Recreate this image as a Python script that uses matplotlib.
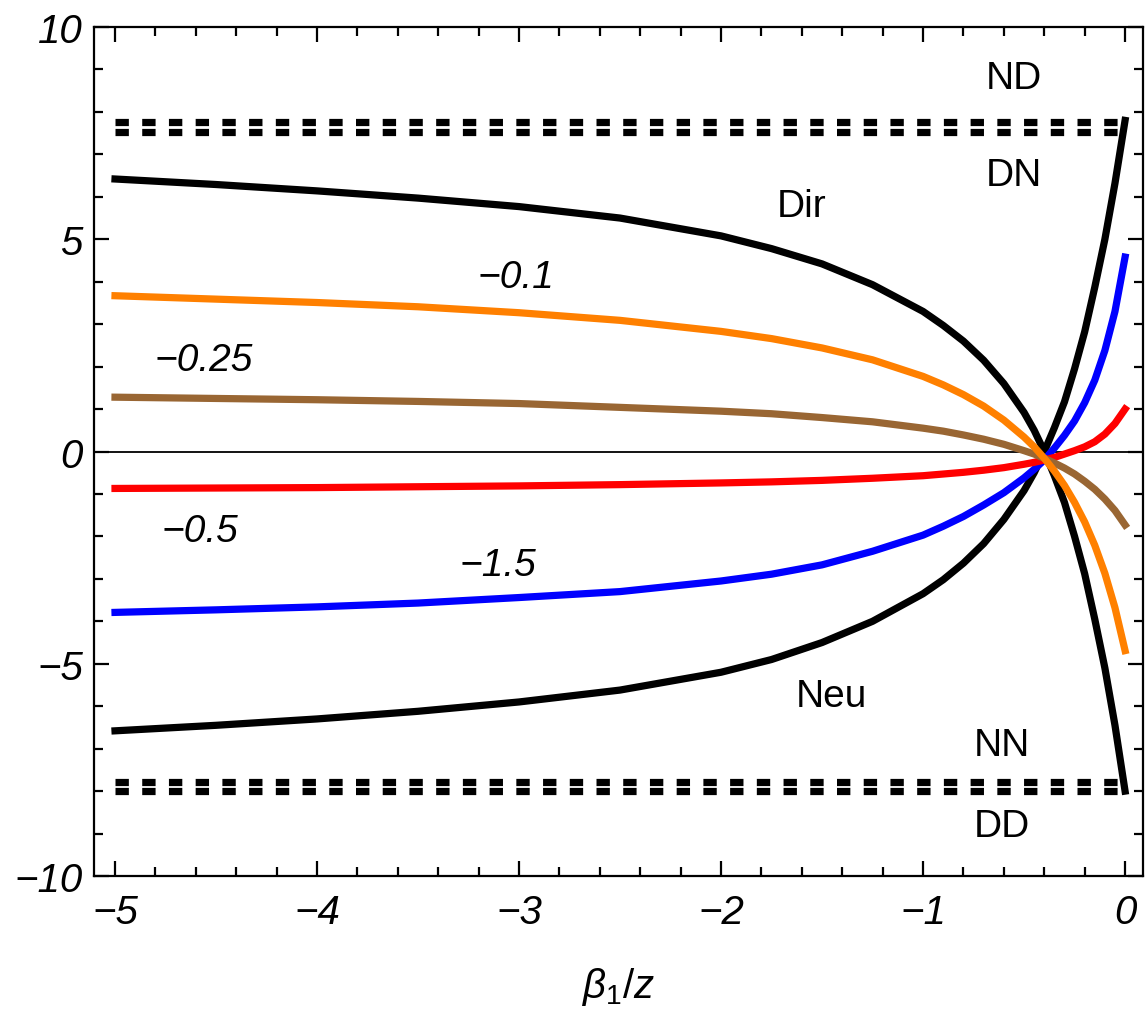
import matplotlib
matplotlib.use("Agg")
from matplotlib import pyplot as plt
from matplotlib.ticker import MultipleLocator

plt.rcParams['font.family'] = ['Liberation Sans', 'DejaVu Sans']
plt.rcParams['mathtext.fontset'] = 'custom'
plt.rcParams['mathtext.it'] = 'Liberation Sans:italic'
plt.rcParams['mathtext.rm'] = 'Liberation Sans'

# Data
xs = [-5, -4.5, -4, -3.5, -3, -2.5, -2, -1.75, -1.5, -1.25, -1, -0.9, -0.8,
      -0.7, -0.6, -0.5, -0.45, -0.4, -0.35, -0.3, -0.25, -0.2, -0.15, -0.1,
      -0.05, 0]
dir_y = [6.42, 6.29, 6.14, 5.97, 5.77, 5.5, 5.08, 4.78, 4.42, 3.93, 3.3, 2.97,
         2.6, 2.15, 1.6, 0.92, 0.5, 0.0, -0.57, -1.2, -2.0, -2.88, -3.95, -5.1,
         -6.45, -8.0]
neu_y = [-6.58, -6.45, -6.3, -6.12, -5.9, -5.62, -5.2, -4.9, -4.5, -4.0, -3.35,
         -3.02, -2.63, -2.17, -1.6, -0.92, -0.5, 0.0, 0.56, 1.17, 1.95, 2.82,
         3.87, 5.0, 6.32, 7.8]
m01_y = [3.67, 3.59, 3.51, 3.41, 3.27, 3.09, 2.83, 2.66, 2.44, 2.16, 1.77, 1.57,
         1.34, 1.07, 0.74, 0.34, 0.11, -0.16, -0.46, -0.8, -1.2, -1.66, -2.21,
         -2.87, -3.68, -4.69]
m025_y = [1.28, 1.25, 1.22, 1.18, 1.13, 1.04, 0.95, 0.89, 0.8, 0.7, 0.55, 0.48,
          0.39, 0.29, 0.17, 0.02, -0.06, -0.16, -0.27, -0.39, -0.53, -0.7,
          -0.89, -1.12, -1.39, -1.73]
m05_y = [-0.87, -0.86, -0.85, -0.83, -0.81, -0.78, -0.74, -0.715, -0.68, -0.63,
         -0.57, -0.53, -0.49, -0.44, -0.38, -0.3, -0.255, -0.2, -0.14, -0.06,
         0.02, 0.11, 0.23, 0.41, 0.66, 1.0]
m15_y = [-3.79, -3.73, -3.66, -3.57, -3.44, -3.3, -3.05, -2.89, -2.67, -2.35,
         -1.97, -1.76, -1.53, -1.26, -0.97, -0.62, -0.42, -0.2, 0.08, 0.38,
         0.72, 1.15, 1.68, 2.38, 3.3, 4.58]

dash_levels = [7.77, 7.53, -7.79, -8.0]
dash_x = [-5, 0]

xticks = [-5, -4, -3, -2, -1, 0]
yticks = [-10, -5, 0, 5, 10]

def fmt(v):
    return f"{v:g}".replace('-', '\u2212')

fig = plt.figure(figsize=(11.45, 10.12), dpi=100)
ax = fig.add_axes([0.0821, 0.1334, 0.9162, 0.8389])

lw = 5.2
ax.axhline(0, color='black', lw=1.3, zorder=1)
for lev in dash_levels:
    ax.plot(dash_x, [lev, lev], color='black', lw=5.2, dashes=(1.85, 1.85),
            dash_capstyle='butt')

ax.plot(xs, dir_y, color='black', lw=lw)
ax.plot(xs, neu_y, color='black', lw=lw)
ax.plot(xs, m15_y, color='#0000FF', lw=lw)
ax.plot(xs, m05_y, color='#FF0000', lw=lw)
ax.plot(xs, m025_y, color='#996633', lw=lw)
ax.plot(xs, m01_y, color='#FF8000', lw=lw)

# labels
fs = 28
for txt, x, y in [("ND", -0.55, 8.8), ("DN", -0.55, 6.51), ("Dir", -1.6, 5.79),
                  ("Neu", -1.456, -5.77), ("NN", -0.61, -6.91), ("DD", -0.61, -8.83)]:
    ax.text(x, y, txt, fontsize=fs, ha='center', va='center')
for txt, x, y in [("\u22120.1", -3.015, 4.11), ("\u22120.25", -4.56, 2.16),
                  ("\u22120.5", -4.58, -1.87), ("\u22121.5", -3.106, -2.67)]:
    ax.text(x, y, txt, fontsize=fs, ha='center', va='center', fontstyle='italic')

ax.set_xlim(-5.104, 0.089)
ax.set_ylim(-10, 10)
ax.set_xticks(xticks)
ax.set_xticklabels([fmt(v) for v in xticks], fontsize=29, fontstyle='italic')
ax.set_yticks(yticks)
ax.set_yticklabels([fmt(v) for v in yticks], fontsize=29, fontstyle='italic')
ax.xaxis.set_minor_locator(MultipleLocator(0.2))
ax.yaxis.set_minor_locator(MultipleLocator(1))
ax.tick_params(which='both', direction='in', top=True, right=True, width=1.6)
ax.tick_params(which='major', length=10.8)
ax.tick_params(which='minor', length=6.8)
ax.tick_params(axis='x', which='major', pad=12)
ax.tick_params(axis='y', which='major', pad=8)
for s in ax.spines.values():
    s.set_linewidth(1.6)

ax.set_xlabel(r'$\beta_{\mathit{1}}\mathit{/z}$', fontsize=29, labelpad=25)

fig.savefig('out.png', dpi=100)
